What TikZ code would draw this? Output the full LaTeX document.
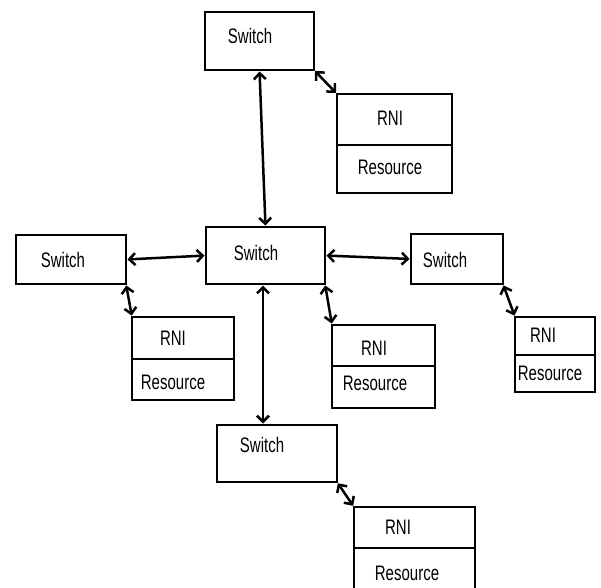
\documentclass[tikz,border=0pt]{standalone}
\usepackage{fontspec}
\setmainfont{Liberation Sans}
\usetikzlibrary{arrows.meta}
\newcommand{\tallt}[1]{\scalebox{1}[1.4]{#1}}
\begin{document}
\begin{tikzpicture}[x=1pt,y=-1pt,
  box/.style={draw=black,line width=2.9pt,inner sep=0pt,outer sep=0pt,fill=white},
  txt/.style={font=\fontsize{15}{18}\selectfont,inner sep=0pt},
  link/.style={line width=2.5pt,{Straight Barb[length=6pt,width=12pt]}-{Straight Barb[length=6pt,width=12pt]},shorten >=1.5pt,shorten <=1.5pt}]
\useasboundingbox (0,0) rectangle (601,587);
% switches
\node[box,minimum width=109pt,minimum height=58pt] (st) at (259.5,41) {};
\node[box,minimum width=110pt,minimum height=49pt] (sl) at (71,259.5) {};
\node[box,minimum width=119pt,minimum height=57pt] (sm) at (265.5,255.5) {};
\node[box,minimum width=92pt,minimum height=50pt] (sr) at (457,259) {};
\node[box,minimum width=120pt,minimum height=57pt] (sb) at (277,453.5) {};
% RNI boxes
\node[box,minimum width=115pt,minimum height=99pt] (rt) at (394.5,143.5) {};
\node[box,minimum width=102pt,minimum height=83pt] (rl) at (183,358.5) {};
\node[box,minimum width=103pt,minimum height=83pt] (rm) at (383.5,366.5) {};
\node[box,minimum width=80pt,minimum height=75pt] (rr) at (555,354.5) {};
\node[box,minimum width=121pt,minimum height=93pt] (rb) at (414.5,553.5) {};
% dividers
\draw[line width=2.9pt] (rt.west |- 0,145) -- (rt.east |- 0,145);
\draw[line width=2.9pt] (rl.west |- 0,359) -- (rl.east |- 0,359);
\draw[line width=2.9pt] (rm.west |- 0,366) -- (rm.east |- 0,366);
\draw[line width=2.9pt] (rr.west |- 0,355) -- (rr.east |- 0,355);
\draw[line width=2.9pt] (rb.west |- 0,548) -- (rb.east |- 0,548);
% texts
\node[txt] (tst) at (250,36) {\tallt{Switch}};
\node[txt] (tsl) at (63,260) {\tallt{Switch}};
\node[txt] (tsm) at (256,253) {\tallt{Switch}};
\node[txt] (tsr) at (445,260) {\tallt{Switch}};
\node[txt] (tsb) at (262,445) {\tallt{Switch}};
\node[txt] (trt) at (390,118) {\tallt{RNI}};
\node[txt] (trl) at (173,338) {\tallt{RNI}};
\node[txt] (trm) at (374,348) {\tallt{RNI}};
\node[txt] (trr) at (543,335) {\tallt{RNI}};
\node[txt] (trb) at (398,527) {\tallt{RNI}};
\node[txt] (tqt) at (390,167) {\tallt{Resource}};
\node[txt] (tql) at (173,382) {\tallt{Resource}};
\node[txt] (tqm) at (375,383) {\tallt{Resource}};
\node[txt] (tqr) at (550,373) {\tallt{Resource}};
\node[txt] (tqb) at (407,573) {\tallt{Resource}};
% links
\draw[link] (st.south east) -- (rt.north west);
\draw[link] (st.south) -- (sm.north);
\draw[link] (sl.east) -- (sm.west);
\draw[link] (sm.east) -- (sr.west);
\draw[link] (sl.south east) -- (rl.north west);
\draw[link] (sm.south east) -- (rm.north west);
\draw[link] (sr.south east) -- (rr.north west);
\draw[link] ([xshift=-2.5pt]sm.south) -- ([xshift=-2.5pt]sm.south |- sb.north);
\draw[link] (sb.south east) -- (rb.north west);
\end{tikzpicture}
\end{document}
